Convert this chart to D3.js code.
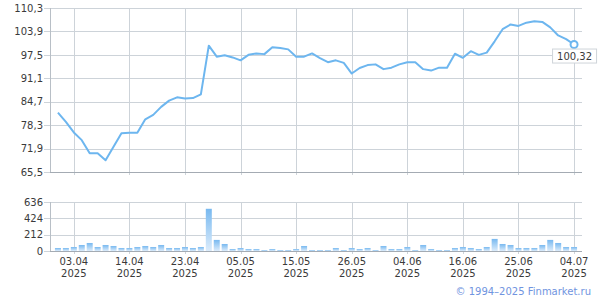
<!DOCTYPE html>
<html><head><meta charset="utf-8">
<script src="https://cdn.jsdelivr.net/npm/d3@7"></script>
<style>
html,body{margin:0;padding:0;background:#fff;}
svg{display:block;font-family:"DejaVu Sans",Verdana,sans-serif;}
</style></head>
<body><svg id="c" width="600" height="300"></svg>
<script>
const dates = ["01.04","02.04","03.04","04.04","07.04","08.04","09.04","10.04","11.04","14.04",
"15.04","16.04","17.04","18.04","21.04","22.04","23.04","24.04","25.04","28.04",
"29.04","30.04","02.05","05.05","06.05","07.05","08.05","12.05","13.05","14.05",
"15.05","16.05","19.05","20.05","21.05","22.05","23.05","26.05","27.05","28.05",
"29.05","30.05","02.06","03.06","04.06","05.06","06.06","09.06","10.06","11.06",
"13.06","16.06","17.06","18.06","19.06","20.06","23.06","24.06","25.06","26.06",
"27.06","30.06","01.07","02.07","03.07","04.07"];
const prices = [81.7,79.2,76.3,74.2,70.6,70.6,68.7,72.4,76.1,76.2,
76.2,79.9,81.1,83.3,85.0,85.9,85.6,85.7,86.7,100.0,
97.0,97.4,96.8,96.0,97.5,97.9,97.7,99.6,99.4,99.0,
97.0,97.0,97.9,96.6,95.5,96.0,95.3,92.4,93.9,94.7,
94.9,93.6,94.0,94.9,95.5,95.5,93.6,93.2,94.0,94.0,
97.8,96.7,98.5,97.5,98.1,101.2,104.5,105.8,105.4,106.3,
106.7,106.5,105.0,102.8,101.8,100.32];
const volumes = [39,39,52,78,104,52,78,65,39,39,
52,65,52,78,39,39,52,39,52,548,
144,91,26,39,26,26,13,26,13,13,
26,65,13,13,13,39,13,39,26,39,
13,65,26,26,52,13,78,26,13,13,
39,52,39,26,52,157,91,78,39,39,
39,78,144,104,52,52];
const tickDates = ["03.04","14.04","23.04","05.05","15.05","26.05","04.06","16.06","25.06","04.07"];
const tickYear = "2025";
const priceTicks = [65.5,71.9,78.3,84.7,91.1,97.5,103.9,110.3];
const volumeTicks = [0,212,424,636];
const copyright = "© 1994–2025 Finmarket.ru";

const svg = d3.select("#c");
const L = 50, R = 582;
const x = d3.scalePoint().domain(dates).range([L, R]).padding(1);
const y = d3.scaleLinear().domain([65.5,110.3]).range([172,8]);
const yv = d3.scaleLinear().domain([0,636]).range([251,202]);
const fmt = d => d.toFixed(1).replace(".", ",");
const gridC = "#cdd3d9", axisC = "#a4abb3", textC = "#3a3a3a";

const defs = svg.append("defs");
const gr = defs.append("linearGradient").attr("id","bg").attr("x1",0).attr("y1",0).attr("x2",0).attr("y2",1);
gr.append("stop").attr("offset","0%").attr("stop-color","#78b9f0");
gr.append("stop").attr("offset","100%").attr("stop-color","#dcecfb");

function panel(ys, ticks, f, top, bottom) {
  const g = svg.append("g");
  g.selectAll("line.h").data(ticks).join("line")
    .attr("x1", 44).attr("x2", R).attr("y1", d => Math.round(ys(d))+0.5).attr("y2", d => Math.round(ys(d))+0.5)
    .attr("stroke", gridC);
  g.selectAll("line.v").data(tickDates).join("line")
    .attr("x1", d => Math.round(x(d))+0.5).attr("x2", d => Math.round(x(d))+0.5)
    .attr("y1", top).attr("y2", bottom+3).attr("stroke", gridC);
  g.append("line").attr("x1", L+0.5).attr("x2", L+0.5).attr("y1", top).attr("y2", bottom)
    .attr("stroke", "#b8bfc6");
  g.append("line").attr("x1", L).attr("x2", R).attr("y1", bottom+0.5).attr("y2", bottom+0.5)
    .attr("stroke", axisC);
  const ax = d3.axisLeft(ys).tickValues(ticks).tickFormat(f).tickSize(0).tickPadding(0);
  const a = svg.append("g").attr("transform", `translate(${L-7},0)`).call(ax);
  a.select(".domain").remove();
  a.selectAll("text").attr("fill", textC).attr("font-size", 10)
    .attr("font-family", '"DejaVu Sans",Verdana,sans-serif');
  return g;
}
panel(y, priceTicks, fmt, 8, 172);
panel(yv, volumeTicks, d => d, 202, 251);

// bars
svg.append("g").selectAll("rect").data(dates).join("rect")
  .attr("x", d => x(d) - 3).attr("width", 6)
  .attr("y", (d,i) => yv(volumes[i])).attr("height", (d,i) => yv(0) - yv(volumes[i]))
  .attr("fill", "url(#bg)");

// line
const line = d3.line().x((d,i) => x(dates[i])).y(d => y(d));
svg.append("path").datum(prices).attr("d", line)
  .attr("fill","none").attr("stroke","#6db6ef").attr("stroke-width",2).attr("stroke-linejoin","round");
const last = prices.length - 1;
svg.append("circle").attr("cx", x(dates[last])).attr("cy", y(prices[last])).attr("r", 3.5)
  .attr("fill","#fff").attr("stroke","#6db6ef").attr("stroke-width",2);
const lx = x(dates[last]), ly = y(prices[last]);
svg.append("rect").attr("x", lx - 21.5).attr("y", ly + 4.5).attr("width", 44).attr("height", 14)
  .attr("fill","#fff").attr("stroke","#cfd4d9");
svg.append("text").attr("x", lx + 0.5).attr("y", ly + 15.5).attr("text-anchor","middle")
  .attr("font-size",10).attr("fill","#3a3a3a").text(fmt2(prices[last]));
function fmt2(v){ return v.toFixed(2).replace(".", ","); }

// x labels
const xl = svg.append("g");
tickDates.forEach(d => {
  xl.append("text").attr("x", x(d)).attr("y", 265).attr("text-anchor","middle")
    .attr("font-size",10).attr("fill",textC).text(d);
  xl.append("text").attr("x", x(d)).attr("y", 277).attr("text-anchor","middle")
    .attr("font-size",10).attr("fill",textC).text(tickYear);
});
svg.append("text").attr("x", 591).attr("y", 295).attr("text-anchor","end")
  .attr("font-size",10).attr("fill","#7094e0").text(copyright);
</script></body></html>
